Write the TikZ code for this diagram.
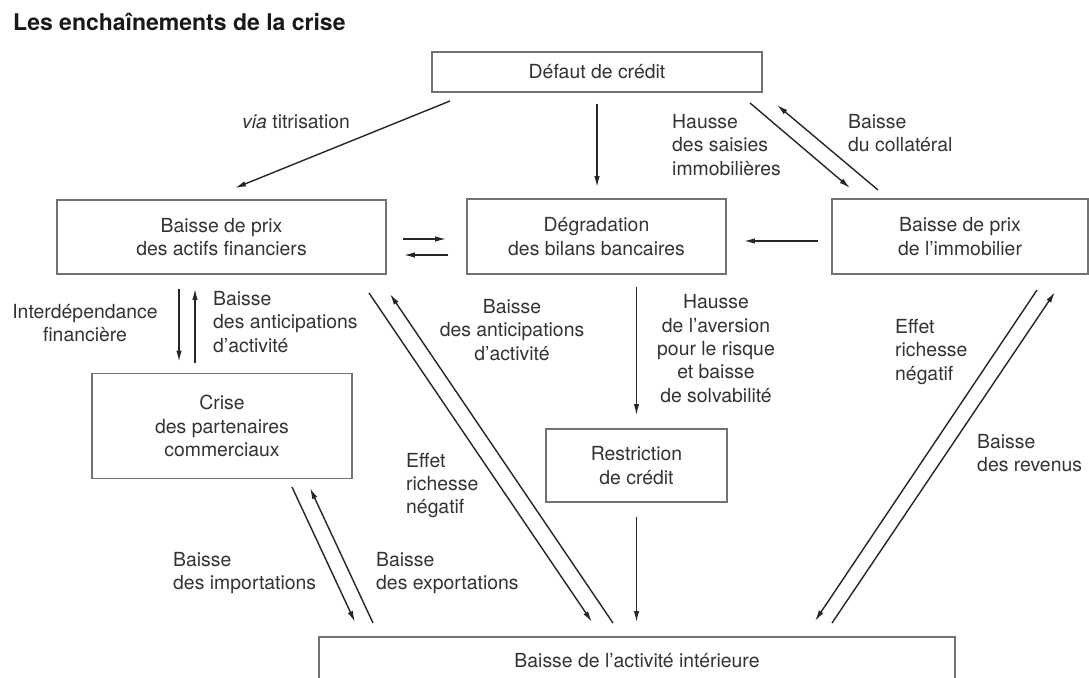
\documentclass[tikz,border=0pt]{standalone}
\usepackage{fontspec}
\setmainfont{TeX Gyre Heros}
\usepackage{tikz}
\usetikzlibrary{arrows.meta}

\begin{document}
\begin{tikzpicture}[x=1pt,y=-1pt,>={Latex[length=11pt,width=5.5pt]},
  box/.style={draw=black!55,line width=1.8pt,inner sep=0pt,align=center,text=black!80,
    font=\fontsize{19.4}{23.3}\selectfont},
  lbl/.style={inner sep=0pt,text=black!80,font=\fontsize{19.4}{23.3}\selectfont},
  arr/.style={->,line width=1.4pt,draw=black!85}]

\path [use as bounding box,fill=white] (0,0) rectangle (1089,677);

\node [anchor=west,inner sep=0pt,text=black!90,font=\fontsize{23}{27}\selectfont\bfseries] (title) at (13,22) {Les enchaînements de la crise};

% boites
\node [box,minimum width=330pt,minimum height=40pt] (defaut) at (597,72) {Défaut de crédit};
\node [box,minimum width=329pt,minimum height=74pt] (actifs) at (221.5,237) {Baisse de prix\\des actifs financiers};
\node [box,minimum width=259pt,minimum height=75pt] (bilans) at (596.5,236.5) {Dégradation\\des bilans bancaires};
\node [box,minimum width=256pt,minimum height=75pt] (immo) at (960,236.5) {Baisse de prix\\de l’immobilier};
\node [box,minimum width=260pt,minimum height=105pt] (crise) at (222,426) {Crise\\des partenaires\\commerciaux};
\node [box,minimum width=181pt,minimum height=73pt] (restriction) at (636.5,465.5) {Restriction\\de crédit};
\node [box,minimum width=636pt,minimum height=48pt] (activite) at (637,661) {Baisse de l’activité intérieure};

% etiquettes
\node [lbl,anchor=west] (l-via) at (242,122) {\textit{via} titrisation};
\node [lbl,anchor=west,align=left] (l-saisies) at (672,145) {Hausse\\des saisies\\immobilières};
\node [lbl,anchor=west,align=left] (l-collat) at (848,133) {Baisse\\du collatéral};
\node [lbl,align=center] (l-interdep) at (85,323) {Interdépendance\\financière};
\node [lbl,anchor=west,align=left] (l-antic1) at (213,322) {Baisse\\des anticipations\\d’activité};
\node [lbl,align=center] (l-antic2) at (512,330) {Baisse\\des anticipations\\d’activité};
\node [lbl,align=center] (l-aversion) at (716,348.5) {Hausse\\de l’aversion\\pour le risque\\et baisse\\de solvabilité};
\node [lbl,anchor=west,align=left] (l-richesse1) at (406,485.5) {Effet\\richesse\\négatif};
\node [lbl,anchor=west,align=left] (l-richesse2) at (895,352) {Effet\\richesse\\négatif};
\node [lbl,anchor=west,align=left] (l-revenus) at (977,453) {Baisse\\des revenus};
\node [lbl,anchor=west,align=left] (l-import) at (173,573) {Baisse\\des importations};
\node [lbl,anchor=west,align=left] (l-export) at (376,573) {Baisse\\des exportations};

% bouts des fleches obliques
\coordinate (via-a) at (450,101);
\coordinate (via-b) at (235,188);
\coordinate (saisies-a) at (750,103);
\coordinate (saisies-b) at (850,188);
\coordinate (collat-a) at (878,190);
\coordinate (collat-b) at (777,105);
\coordinate (rich1-a) at (369,293);
\coordinate (rich1-b) at (592,622);
\coordinate (antic2-a) at (613,623);
\coordinate (antic2-b) at (390,294);
\coordinate (rich2-a) at (1037,290);
\coordinate (rich2-b) at (815,621);
\coordinate (rev-a) at (832,623);
\coordinate (rev-b) at (1055,292);
\coordinate (imp-a) at (292,487);
\coordinate (imp-b) at (355,622);
\coordinate (exp-a) at (373,623);
\coordinate (exp-b) at (310,488);

\draw [arr] (via-a) -- (via-b);
\draw [arr] (saisies-a) -- (saisies-b);
\draw [arr] (collat-a) -- (collat-b);
\draw [arr] (rich1-a) -- (rich1-b);
\draw [arr] (antic2-a) -- (antic2-b);
\draw [arr] (rich2-a) -- (rich2-b);
\draw [arr] (rev-a) -- (rev-b);
\draw [arr] (imp-a) -- (imp-b);
\draw [arr] (exp-a) -- (exp-b);

\draw [arr,shorten <=11pt,shorten >=11pt] (defaut.south) -- (defaut.south |- bilans.north);
\draw [arr,shorten <=12pt,shorten >=13pt] (bilans.south -| restriction.north) -- (restriction.north);
\draw [arr,shorten <=14pt,shorten >=14pt] (restriction.south) -- (restriction.south |- activite.north);
\draw [arr,shorten <=16pt,shorten >=20pt] ([yshift=-2pt]actifs.east) -- ([yshift=-2pt]actifs.east -| bilans.west);
\draw [arr,shorten <=18pt,shorten >=17pt] ([yshift=-18pt]actifs.east -| bilans.west) -- ([yshift=-18pt]actifs.east);
\draw [arr,shorten <=13pt,shorten >=17pt] ([yshift=-4.5pt]immo.west) -- ([yshift=-4.5pt]immo.west -| bilans.east);
\draw [arr,shorten <=14pt,shorten >=11pt] ([xshift=-42.5pt]actifs.south) -- ([xshift=-42.5pt]actifs.south |- crise.north);
\draw [arr,shorten <=10pt,shorten >=14pt] ([xshift=-26.5pt]actifs.south |- crise.north) -- ([xshift=-26.5pt]actifs.south);

\end{tikzpicture}
\end{document}
